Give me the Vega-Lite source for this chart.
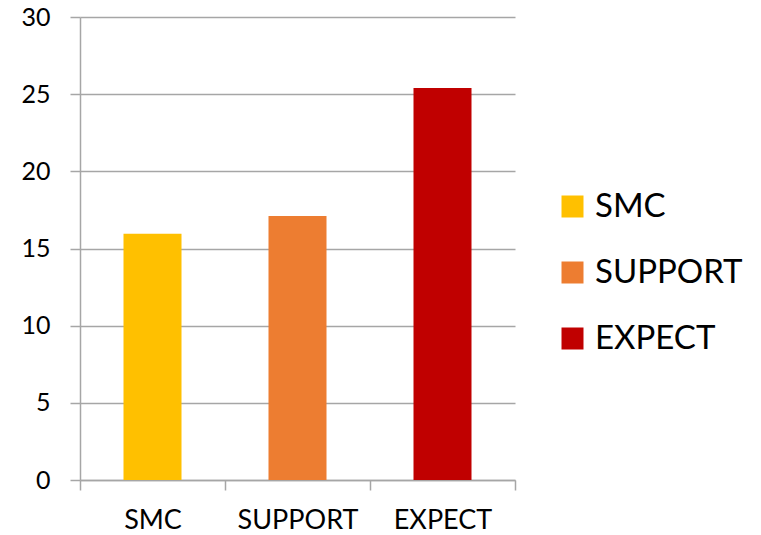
{
  "$schema": "https://vega.github.io/schema/vega-lite/v6.json",
  "autosize": "none",
  "padding": {"left": 80, "top": 17, "right": 246, "bottom": 55},
  "width": 435,
  "height": 463,
  "background": "white",
  "data": {"values": [
    {"category": "SMC", "value": 15.95},
    {"category": "SUPPORT", "value": 17.1},
    {"category": "EXPECT", "value": 25.4}
  ]},
  "mark": {"type": "bar", "width": {"band": 0.4}},
  "encoding": {
    "x": {
      "field": "category", "type": "nominal", "sort": ["SMC", "SUPPORT", "EXPECT"],
      "scale": {"paddingInner": 0, "paddingOuter": 0},
      "axis": {"title": null, "labelAngle": 0, "tickBand": "extent", "tickSize": 10,
        "tickColor": "#a6a6a6", "domainColor": "#a6a6a6", "tickWidth": 1.5, "domainWidth": 1.5,
        "labelFont": "Lato", "labelFontSize": 27, "labelColor": "#000000", "labelPadding": 17}
    },
    "y": {
      "field": "value", "type": "quantitative",
      "scale": {"domain": [0, 30], "nice": false},
      "axis": {"title": null, "values": [0, 5, 10, 15, 20, 25, 30], "tickSize": 10,
        "tickColor": "#a6a6a6", "domainColor": "#a6a6a6", "gridColor": "#a6a6a6",
        "tickWidth": 1.5, "domainWidth": 1.5, "gridWidth": 1.5, "grid": true,
        "labelFont": "Lato", "labelFontSize": 25, "labelColor": "#000000", "labelPadding": 20}
    },
    "color": {
      "field": "category", "type": "nominal", "sort": ["SMC", "SUPPORT", "EXPECT"],
      "scale": {"domain": ["SMC", "SUPPORT", "EXPECT"], "range": ["#FFC000", "#ED7D31", "#C00000"]},
      "legend": {"title": null, "orient": "none", "legendX": 476, "legendY": 173,
        "symbolType": "square", "symbolSize": 484, "symbolStrokeWidth": 0, "symbolOpacity": 1,
        "labelFont": "Lato", "labelFontSize": 33, "labelColor": "#000000", "labelOffset": 6,
        "rowPadding": 32, "labelLimit": 300}
    }
  },
  "config": {"view": {"stroke": null}}
}
